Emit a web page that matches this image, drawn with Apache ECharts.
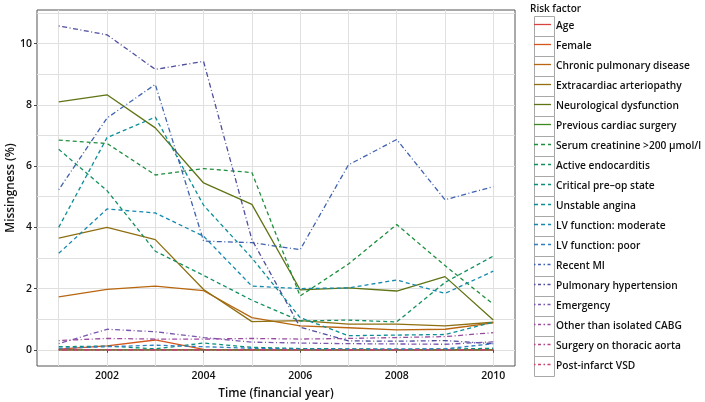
<!DOCTYPE html>
<html><head><meta charset="utf-8">
<script src="https://cdn.jsdelivr.net/npm/echarts@6/dist/echarts.min.js"></script>
<style>html,body{margin:0;padding:0;background:#fff}#c{width:705px;height:402px}</style>
</head><body><div id="c"></div>
<script>
var years = [2001,2002,2003,2004,2005,2006,2007,2008,2009,2010];
var xTickLabels = [2002,2004,2006,2008,2010];
var yGridValues = [0,1,2,3,4,5,6,7,8,9,10,11];
var yTickLabels = [0,2,4,6,8,10];
var names = ["Age","Female","Chronic pulmonary disease","Extracardiac arteriopathy","Neurological dysfunction","Previous cardiac surgery","Serum creatinine >200 μmol/l","Active endocarditis","Critical pre\u2013op state","Unstable angina","LV function: moderate","LV function: poor","Recent MI","Pulmonary hypertension","Emergency","Other than isolated CABG","Surgery on thoracic aorta","Post-infarct VSD"];
var age          = [0,0,0,0,0,0,0,0,0,0];
var female       = [0.02,0.13,0.32,0.01,0,0,0,0,0,0];
var chronic      = [1.73,1.97,2.08,1.93,1.05,0.78,0.72,0.65,0.67,0.88];
var extracardiac = [3.65,4.0,3.6,1.97,0.92,0.95,0.84,0.84,0.78,0.9];
var neuro        = [8.1,8.33,7.25,5.45,4.75,1.96,2.02,1.92,2.39,0.97];
var prevCardiac  = [0,0,0,0,0,0,0,0,0,0];
var serum        = [6.85,6.74,5.71,5.92,5.79,1.76,2.8,4.09,2.75,1.49];
var endocarditis = [6.55,5.2,3.22,2.43,1.62,0.94,0.97,0.91,2.2,3.06];
var criticalPreop= [0.1,0.12,0.03,0.22,0.08,0.04,0.03,0.02,0.02,0.05];
var unstable     = [4.0,6.93,7.6,4.72,3.0,1.05,0.46,0.48,0.5,0.9];
var lvModerate   = [3.15,4.6,4.47,3.71,2.08,2.0,2.02,2.28,1.84,2.57];
var lvPoor       = [0.05,0.1,0.15,0.1,0.05,0.02,0.02,0.02,0.03,0.2];
var recentMI     = [5.23,7.57,8.67,3.55,3.5,3.27,6.04,6.87,4.9,5.33];
var pulmHyp      = [10.58,10.29,9.16,9.42,3.6,0.74,0.29,0.28,0.3,0.2];
var emergency    = [0.2,0.67,0.59,0.4,0.25,0.22,0.2,0.19,0.18,0.26];
var otherCABG    = [0.3,0.37,0.35,0.35,0.37,0.35,0.37,0.4,0.43,0.56];
var thoracic     = [0,0,0,0,0,0,0,0,0,0];
var postVSD      = [0,0,0,0,0,0,0,0,0,0];
var allData = [age,female,chronic,extracardiac,neuro,prevCardiac,serum,endocarditis,criticalPreop,unstable,lvModerate,lvPoor,recentMI,pulmHyp,emergency,otherCABG,thoracic,postVSD];
var colors = ["#D9433F","#D2561E","#B8660F","#8F6F10","#5F7414","#3F8A20","#1E8F3E","#12905E","#0A907A","#0A8F96","#1489B0","#2F7EC2","#3F62B0","#4F4E9E","#7A56AE","#9A4A9E","#B24488","#C8436A"];
var DASH = [4,3], DOTDASH = [1,2.5,5,2.5];
var types = ["solid","solid","solid","solid","solid","solid",DASH,DASH,DASH,DASH,DASH,DASH,DOTDASH,DOTDASH,DOTDASH,DOTDASH,DOTDASH,DOTDASH];
var keyDash = [null,null,null,null,null,null,[4,3],[4,3],[4,3],[4,3],[4,3],[4,3],[1.5,2.5,3,2.5],[1.5,2.5,3,2.5],[1.5,2.5,3,2.5],[1.5,2.5,3,2.5],[1.5,2.5,3,2.5],[1.5,2.5,3,2.5]];

var FONT = "Open Sans";
var series = names.map(function(n,i){
  return {name:n,type:'line',symbol:'none',silent:true,animation:false,
    data: years.map(function(y,j){return [y, allData[i][j]];}),
    lineStyle:{color:colors[i],width:1.3,type:types[i]},itemStyle:{color:colors[i]}};
});
var graphics = [];
for (var i=0;i<names.length;i++){
  graphics.push({type:'rect',left:532,top:14+20*i,shape:{width:20,height:20},style:{fill:'none',stroke:'#a8a8a8',lineWidth:1},silent:true});
  graphics.push({type:'line',shape:{x1:534,y1:24.5+20*i,x2:551,y2:24.5+20*i},style:{stroke:colors[i],lineWidth:1.3,lineDash:keyDash[i]},silent:true});
}
var XMIN = 2000.55, XMAX = 2010.45, YMIN = -0.53, YMAX = 11.1;
var chart = echarts.init(document.getElementById('c'),null,{renderer:'canvas'});
chart.setOption({
  animation:false,
  color:colors,
  textStyle:{fontFamily:FONT},
  title:{text:'Risk factor',left:530,top:4,padding:0,textStyle:{fontFamily:FONT,fontSize:10,fontWeight:600,color:'#111'}},
  legend:{orient:'vertical',left:534,top:18,padding:0,itemWidth:16,itemHeight:20,itemGap:4,
    itemStyle:{opacity:0},lineStyle:{opacity:0},
    textStyle:{fontFamily:FONT,fontSize:10.2,color:'#111',fontWeight:600},data:names,selectedMode:false},
  graphic:graphics,
  grid:{left:37,right:190,top:10,bottom:36,outerBoundsMode:'none',containLabel:false,show:true,borderColor:'#555',borderWidth:1,backgroundColor:'#fff'},
  xAxis:[{type:'value',min:XMIN,max:XMAX,
    name:'Time (financial year)',nameLocation:'middle',nameGap:22,nameMoveOverlap:false,
    nameTextStyle:{fontFamily:FONT,fontSize:11.8,color:'#111',fontWeight:600},
    axisLine:{show:false},
    axisTick:{show:false,customValues:years},
    axisLabel:{customValues:xTickLabels,formatter:function(v){return String(v);},fontFamily:FONT,fontSize:10.5,color:'#111',fontWeight:600,margin:5},
    splitLine:{show:true,lineStyle:{color:'#e0e0e0',width:1}}},
   {type:'value',min:XMIN,max:XMAX,position:'bottom',
    axisLine:{show:false},axisLabel:{show:false},splitLine:{show:false},
    axisTick:{show:true,length:3,lineStyle:{color:'#444'},customValues:xTickLabels}}],
  yAxis:[{type:'value',min:YMIN,max:YMAX,
    name:'Missingness (%)',nameLocation:'middle',nameGap:20,nameRotate:90,nameMoveOverlap:false,
    nameTextStyle:{fontFamily:FONT,fontSize:11.8,color:'#111',fontWeight:600},
    axisLine:{show:false},
    axisTick:{show:false,customValues:yGridValues},
    axisLabel:{customValues:yTickLabels,fontFamily:FONT,fontSize:10.5,color:'#111',fontWeight:600,margin:5},
    splitLine:{show:true,lineStyle:{color:'#e0e0e0',width:1}}},
   {type:'value',min:YMIN,max:YMAX,position:'left',
    axisLine:{show:false},axisLabel:{show:false},splitLine:{show:false},
    axisTick:{show:true,length:3,lineStyle:{color:'#444'},customValues:yTickLabels}}],
  series:series
});
</script></body></html>
